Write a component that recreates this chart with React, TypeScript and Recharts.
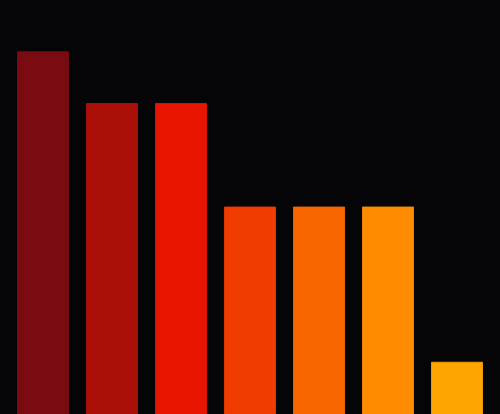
import React from "react";
import { BarChart, Bar, XAxis, YAxis, Cell } from "recharts";

const categories = ["A", "B", "C", "D", "E", "F", "G"];
const values = [7, 6, 6, 4, 4, 4, 1];
const colors = ["#7a0c11", "#ab1008", "#e81500", "#f03c00", "#f86600", "#ff8c00", "#ffa500"];

const data = categories.map((name, i) => ({ name, value: values[i] }));

const App = () => {
  return (
    <div style={{ position: "fixed", left: 0, top: 0, width: 500, height: 414, background: "#050507" }}>
      <BarChart width={500} height={414} data={data} margin={{ top: 0, right: 8.5, left: 8.5, bottom: 0 }} barSize={51}>
        <XAxis dataKey="name" hide />
        <YAxis domain={[0, 8]} hide />
        <Bar dataKey="value" isAnimationActive={false} strokeWidth={1}>
          {data.map((d, i) => (
            <Cell key={d.name} fill={colors[i]} stroke={colors[i]} strokeOpacity={0.85} />
          ))}
        </Bar>
      </BarChart>
    </div>
  );
};

export default App;
